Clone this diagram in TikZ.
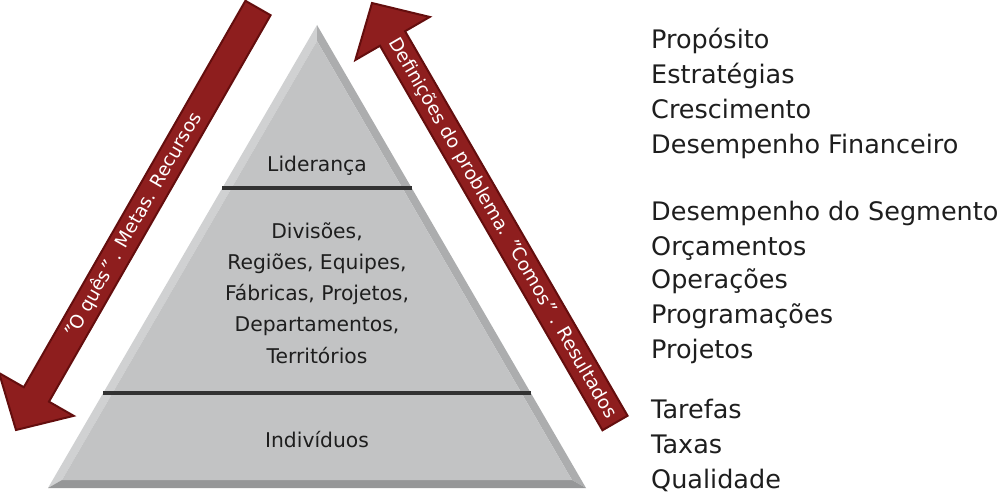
\documentclass[tikz,border=0pt]{standalone}
\usepackage{fontspec}
\setmainfont{DejaVu Sans}
\usetikzlibrary{calc}
\definecolor{arrred}{RGB}{142,30,30}
\definecolor{arrdark}{RGB}{100,14,14}
\definecolor{face}{RGB}{194,195,196}
\definecolor{bevL}{RGB}{208,209,210}
\definecolor{bevR}{RGB}{172,173,174}
\definecolor{bevB}{RGB}{150,151,152}
\definecolor{divline}{RGB}{50,50,50}
\definecolor{txt}{RGB}{30,30,30}
\newcommand\qq{{\itshape "}}
\begin{document}
\begin{tikzpicture}[x=1pt,y=-1pt,
  pyrtext/.style={font=\fontsize{20.3}{24}\selectfont, text=txt, anchor=base, inner sep=0},
  sidetext/.style={font=\fontsize{25.5}{30}\selectfont, text=txt, anchor=base west, inner sep=0},
  arrtext/.style={font=\fontsize{18.5}{22}\selectfont, text=white, inner sep=0},
  arrowbody/.style={fill=arrred, draw=arrdark, line width=2pt, line join=miter},
  divider/.style={draw=divline, line width=3.5pt},
]
\useasboundingbox (0,0) rectangle (1000,495);
% pyramid
\coordinate (A) at (317,25);
\coordinate (B) at (48,488);
\coordinate (C) at (586,488);
\coordinate (Ai) at (317,41);
\coordinate (Bi) at (62,480);
\coordinate (Ci) at (572,480);
\fill[bevL] (A)--(B)--(Bi)--(Ai)--cycle;
\fill[bevR] (A)--(C)--(Ci)--(Ai)--cycle;
\fill[bevB] (B)--(C)--(Ci)--(Bi)--cycle;
\fill[face] (Ai)--(Bi)--(Ci)--cycle;
\coordinate (d1l) at (222.3,188);
\coordinate (d1r) at (411.7,188);
\coordinate (d2l) at (103.2,393);
\coordinate (d2r) at (530.8,393);
\draw[divider] (d1l) -- (d1r);
\draw[divider] (d2l) -- (d2r);
% pyramid texts
\node[pyrtext] (lid) at (317,171) {Liderança};
\node[pyrtext] (m1) at (317,238) {Divisões,};
\node[pyrtext] (m2) at (317,269.3) {Regiões, Equipes,};
\node[pyrtext] (m3) at (317,300.5) {Fábricas, Projetos,};
\node[pyrtext] (m4) at (317,331.8) {Departamentos,};
\node[pyrtext] (m5) at (317,363) {Territórios};
\node[pyrtext] (ind) at (317,447) {Indivíduos};
% arrows
\newcommand\bigarrow[2]{%
  \coordinate (H) at ($(#2)!41pt!(#1)$);
  \coordinate (W1) at ($(H)!43pt!90:(#1)$);
  \coordinate (W2) at ($(H)!43pt!-90:(#1)$);
  \coordinate (S1) at ($(H)!14.5pt!90:(#1)$);
  \coordinate (S2) at ($(H)!14.5pt!-90:(#1)$);
  \coordinate (E1) at ($(#1)!14.5pt!-90:(H)$);
  \coordinate (E2) at ($(#1)!14.5pt!90:(H)$);
  \draw[arrowbody] (#2) -- (W1) -- (S1) -- (E1) -- (E2) -- (S2) -- (W2) -- cycle;
}
\coordinate (LT) at (258,8);
\coordinate (LP) at (16,430);
\coordinate (RT) at (615,423);
\coordinate (RP) at (372,3);
\bigarrow{LT}{LP}
\bigarrow{RT}{RP}
\node[arrtext, rotate=60.2] (ltxt) at ($(LT)!0.515!(LP)$) {\qq O quês\qq\ . Metas. Recursos};
\node[arrtext, rotate=-59.9] (rtxt) at ($(RT)!0.464!(RP)$) {Definições do problema. \qq Comos\qq\ . Resultados};
% side texts
\node[sidetext] (s1) at (651,48.3) {Propósito};
\node[sidetext] (s2) at (651,83.3) {Estratégias};
\node[sidetext] (s3) at (651,118.3) {Crescimento};
\node[sidetext] (s4) at (651,153.3) {Desempenho Financeiro};
\node[sidetext] (s5) at (651,220) {Desempenho do Segmento};
\node[sidetext] (s6) at (651,255) {Orçamentos};
\node[sidetext] (s7) at (651,288.3) {Operações};
\node[sidetext] (s8) at (651,323.3) {Programações};
\node[sidetext] (s9) at (651,358.3) {Projetos};
\node[sidetext] (s10) at (651,418.3) {Tarefas};
\node[sidetext] (s11) at (651,453.3) {Taxas};
\node[sidetext] (s12) at (651,488.3) {Qualidade};
\end{tikzpicture}
\end{document}
